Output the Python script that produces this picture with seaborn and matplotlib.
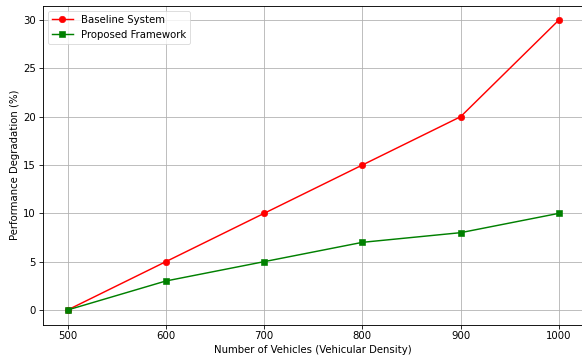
import matplotlib
matplotlib.use("Agg")
import matplotlib.pyplot as plt
import seaborn as sns
import pandas as pd

vehicles = [500, 600, 700, 800, 900, 1000]
baseline = [0, 5, 10, 15, 20, 30]
proposed = [0, 3, 5, 7, 8, 10]

df = pd.DataFrame({"Vehicles": vehicles * 2,
                   "Degradation": baseline + proposed,
                   "System": ["Baseline System"] * 6 + ["Proposed Framework"] * 6})

DPI = 58.2
FS = 12.6
fig = plt.figure(figsize=(582 / DPI, 360 / DPI), dpi=DPI)
ax = fig.add_axes([43 / 582, (360 - 324.5) / 360, 540.5 / 582, 319 / 360])

sns.lineplot(data=df[df.System == "Baseline System"], x="Vehicles", y="Degradation",
             color="red", marker="o", markeredgecolor="red", markersize=8,
             linewidth=1.8, label="Baseline System", ax=ax)
sns.lineplot(data=df[df.System == "Proposed Framework"], x="Vehicles", y="Degradation",
             color="green", marker="s", markeredgecolor="green", markersize=8,
             linewidth=1.8, label="Proposed Framework", ax=ax)

ax.set_xlabel("Number of Vehicles (Vehicular Density)", fontsize=FS)
ax.set_ylabel("Performance Degradation (%)", fontsize=FS)
ax.set_xticks(vehicles)
ax.set_yticks([0, 5, 10, 15, 20, 25, 30])
ax.tick_params(labelsize=FS, length=5, width=1)
ax.grid(True, color="#b0b0b0", linewidth=1)
for s in ax.spines.values():
    s.set_linewidth(1.1)
ax.legend(loc="upper left", fontsize=FS)
fig.savefig("out.png", dpi=DPI)
